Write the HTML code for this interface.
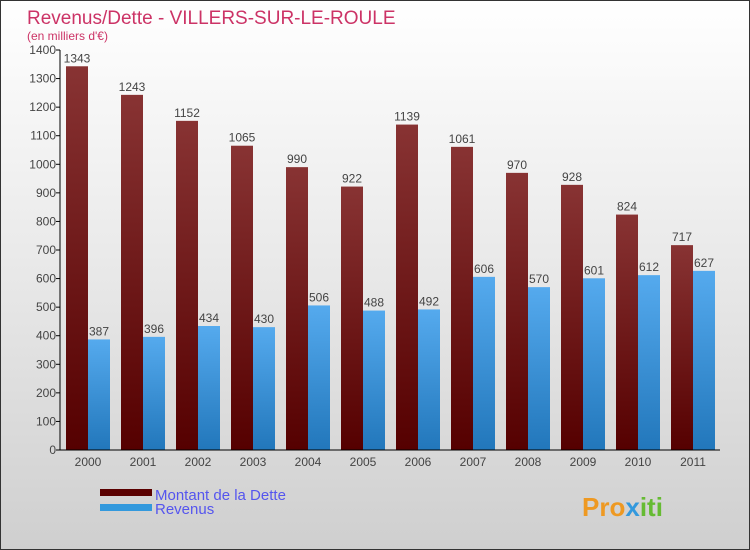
<!DOCTYPE html>
<html><head><meta charset="utf-8"><style>
body{margin:0}
#c{width:750px;height:550px;position:relative;overflow:hidden;font-family:"Liberation Sans",sans-serif}
</style></head><body>
<div id="c">
<svg width="750" height="550" xmlns="http://www.w3.org/2000/svg">
<defs>
<linearGradient id="bg" x1="0" y1="0" x2="0" y2="1"><stop offset="0" stop-color="#ffffff"/><stop offset="0.5" stop-color="#e8e8e8"/><stop offset="1" stop-color="#cfcfcf"/></linearGradient>
<linearGradient id="gd" x1="0" y1="0" x2="0" y2="1"><stop offset="0" stop-color="#883333"/><stop offset="1" stop-color="#550000"/></linearGradient>
<linearGradient id="gr" x1="0" y1="0" x2="0" y2="1"><stop offset="0" stop-color="#55aaee"/><stop offset="1" stop-color="#2277bb"/></linearGradient>
</defs>
<rect x="0.5" y="0.5" width="749" height="549" fill="url(#bg)" stroke="#333"/>
<text x="27" y="24" font-size="19" fill="#cc3366">Revenus/Dette - VILLERS-SUR-LE-ROULE</text>
<text x="27" y="40" font-size="12" fill="#cc3366">(en milliers d'€)</text>
<g id="plot"></g>
<rect x="100" y="489" width="52" height="7" fill="#5a0000"/>
<rect x="100" y="504" width="52" height="7" fill="#3399dd"/>
<text x="155" y="500" font-size="15" fill="#5555ee">Montant de la Dette</text>
<text x="155" y="514" font-size="15" fill="#5555ee">Revenus</text>
<text x="582" y="516" font-size="26" font-weight="bold" fill="#ee9922">Pro<tspan fill="#3399dd">x</tspan><tspan fill="#66bb33">iti</tspan></text>
</svg>
</div>
<script>
const years=["2000","2001","2002","2003","2004","2005","2006","2007","2008","2009","2010","2011"];
const dette=[1343,1243,1152,1065,990,922,1139,1061,970,928,824,717];
const revenus=[387,396,434,430,506,488,492,606,570,601,612,627];
const ticks=[0,100,200,300,400,500,600,700,800,900,1000,1100,1200,1300,1400];
const NS="http://www.w3.org/2000/svg";
const g=document.getElementById('plot');
const x0=60,y0=450,yTop=50,maxV=1400,gw=55;
const y=v=>y0-(v/maxV)*(y0-yTop);
function mk(t,a){const e=document.createElementNS(NS,t);for(const k in a)e.setAttribute(k,a[k]);g.appendChild(e);return e;}
ticks.forEach(t=>{
 const l=mk('line',{x1:x0-4,x2:x0,y1:y(t),y2:y(t),stroke:'#000'});
 
 
 const tx=mk('text',{x:x0-4,y:y(t)+4,'font-size':12,fill:'#444','text-anchor':'end'});
 tx.textContent=t;
 
 
});
years.forEach((yr,i)=>{
 const gx=x0+gw*i;
 const b1=mk('rect',{x:gx+6,y:y(dette[i]),width:22,height:y0-y(dette[i]),fill:'url(#gd)'});
 
 
 const b2=mk('rect',{x:gx+28,y:y(revenus[i]),width:22,height:y0-y(revenus[i]),fill:'url(#gr)'});
 
 
 const l1=mk('text',{x:gx+17,y:y(dette[i])-4,'font-size':12,fill:'#444','text-anchor':'middle'});
 l1.textContent=dette[i];
 
 
 const l2=mk('text',{x:gx+39,y:y(revenus[i])-4,'font-size':12,fill:'#444','text-anchor':'middle'});
 l2.textContent=revenus[i];
 
 
 const xl=mk('text',{x:gx+28,y:466,'font-size':12,fill:'#444','text-anchor':'middle'});
 xl.textContent=yr;
 
 
});
const ya=mk('line',{x1:x0,x2:x0,y1:yTop,y2:y0,stroke:'#000'});


const xa=mk('line',{x1:x0,x2:x0+gw*12,y1:y0,y2:y0,stroke:'#000'});


</script>
</body></html>
